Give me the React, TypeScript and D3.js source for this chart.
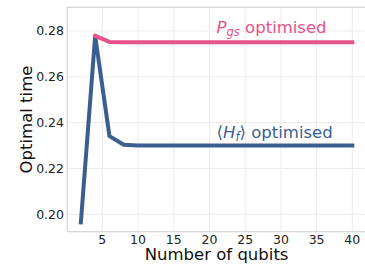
import React, { useEffect, useRef } from 'react';
import * as d3 from 'd3';

const qubits = [2, 4, 6, 8, 10, 12, 14, 16, 18, 20, 22, 24, 26, 28, 30, 32, 34, 36, 38, 40];
const hfTimes = [0.1965, 0.2778, 0.2341, 0.2303, 0.2300, 0.2300, 0.2300, 0.2300, 0.2300, 0.2300,
  0.2300, 0.2300, 0.2300, 0.2300, 0.2300, 0.2300, 0.2300, 0.2300, 0.2300, 0.2300];
const pgsQubits = [4, 6, 8, 10, 12, 14, 16, 18, 20, 22, 24, 26, 28, 30, 32, 34, 36, 38, 40];
const pgsTimes = [0.2778, 0.2752, 0.2750, 0.2750, 0.2750, 0.2750, 0.2750, 0.2750, 0.2750, 0.2750,
  0.2750, 0.2750, 0.2750, 0.2750, 0.2750, 0.2750, 0.2750, 0.2750, 0.2750];
const xTicks = [5, 10, 15, 20, 25, 30, 35, 40];
const yTicks = [0.20, 0.22, 0.24, 0.26, 0.28];

const BLUE = '#3a5e92';
const PINK = '#e8528a';
const FONT = 'DejaVu Sans';

const App: React.FC = () => {
  const svgRef = useRef<SVGSVGElement>(null);

  useEffect(() => {
    if (!svgRef.current) return;
    const svg = d3.select(svgRef.current);
    svg.selectAll('*').remove();

    const left = 67.3, right = 365.9, top = 7.3, bottom = 231.7;

    const x = d3.scaleLinear().domain([0.1, 41.9]).range([left, right]);
    const y = d3.scaleLinear().domain([0.1924, 0.2903]).range([bottom, top]);

    // grid
    svg.append('g')
      .selectAll('line')
      .data(xTicks)
      .join('line')
      .attr('x1', d => x(d)).attr('x2', d => x(d))
      .attr('y1', top).attr('y2', bottom)
      .attr('stroke', '#ebebeb').attr('stroke-width', 1);
    svg.append('g')
      .selectAll('line')
      .data(yTicks)
      .join('line')
      .attr('x1', left).attr('x2', right)
      .attr('y1', d => y(d)).attr('y2', d => y(d))
      .attr('stroke', '#ebebeb').attr('stroke-width', 1);

    // frame
    svg.append('rect')
      .attr('x', left).attr('y', top)
      .attr('width', right - left).attr('height', bottom - top)
      .attr('fill', 'none').attr('stroke', '#d4d4d4').attr('stroke-width', 1.2);

    // tick labels
    svg.append('g')
      .selectAll('text')
      .data(xTicks)
      .join('text')
      .attr('x', d => x(d)).attr('y', 243.5)
      .attr('text-anchor', 'middle')
      .attr('font-family', FONT).attr('font-size', 12.5)
      .attr('fill', '#222')
      .text(d => d);
    svg.append('g')
      .selectAll('text')
      .data(yTicks)
      .join('text')
      .attr('x', 64).attr('y', d => y(d))
      .attr('dy', '0.36em')
      .attr('text-anchor', 'end')
      .attr('font-family', FONT).attr('font-size', 12.5)
      .attr('fill', '#222')
      .text(d => d.toFixed(2));

    // axis titles
    svg.append('text')
      .attr('x', (left + right) / 2).attr('y', 260)
      .attr('text-anchor', 'middle')
      .attr('font-family', FONT).attr('font-size', 16.5)
      .attr('fill', '#111')
      .text('Number of qubits');
    svg.append('text')
      .attr('transform', `translate(32,${(top + bottom) / 2}) rotate(-90)`)
      .attr('text-anchor', 'middle')
      .attr('font-family', FONT).attr('font-size', 16.5)
      .attr('fill', '#111')
      .text('Optimal time');

    const line = d3.line<[number, number]>()
      .x(d => x(d[0]))
      .y(d => y(d[1]));

    svg.append('path')
      .datum(qubits.map((q, i) => [q, hfTimes[i]] as [number, number]))
      .attr('d', line)
      .attr('fill', 'none').attr('stroke', BLUE).attr('stroke-width', 4)
      .attr('stroke-linecap', 'square').attr('stroke-linejoin', 'round');

    svg.append('path')
      .datum(pgsQubits.map((q, i) => [q, pgsTimes[i]] as [number, number]))
      .attr('d', line)
      .attr('fill', 'none').attr('stroke', PINK).attr('stroke-width', 4)
      .attr('stroke-linecap', 'square').attr('stroke-linejoin', 'round');

    // annotations
    const pgs = svg.append('text')
      .attr('x', x(21)).attr('y', 32.7)
      .attr('font-family', FONT).attr('font-size', 16.5)
      .attr('fill', PINK);
    pgs.append('tspan').attr('font-style', 'italic').text('P');
    pgs.append('tspan').attr('font-style', 'italic').attr('font-size', 11.5).attr('dy', 3.5).text('gs');
    pgs.append('tspan').attr('dy', -3.5).text(' optimised');

    const hf = svg.append('text')
      .attr('x', x(21)).attr('y', 137.5)
      .attr('font-family', FONT).attr('font-size', 16.5)
      .attr('fill', BLUE);
    hf.append('tspan').text('⟨');
    hf.append('tspan').attr('font-style', 'italic').text('H');
    hf.append('tspan').attr('font-style', 'italic').attr('font-size', 11.5).attr('dy', 3.5).text('f');
    hf.append('tspan').attr('dy', -3.5).text('⟩ optimised');
  }, []);

  return (
    <svg
      ref={svgRef}
      width={365}
      height={269}
      style={{ position: 'fixed', left: 0, top: 0, background: '#fff' }}
    />
  );
};

export default App;
